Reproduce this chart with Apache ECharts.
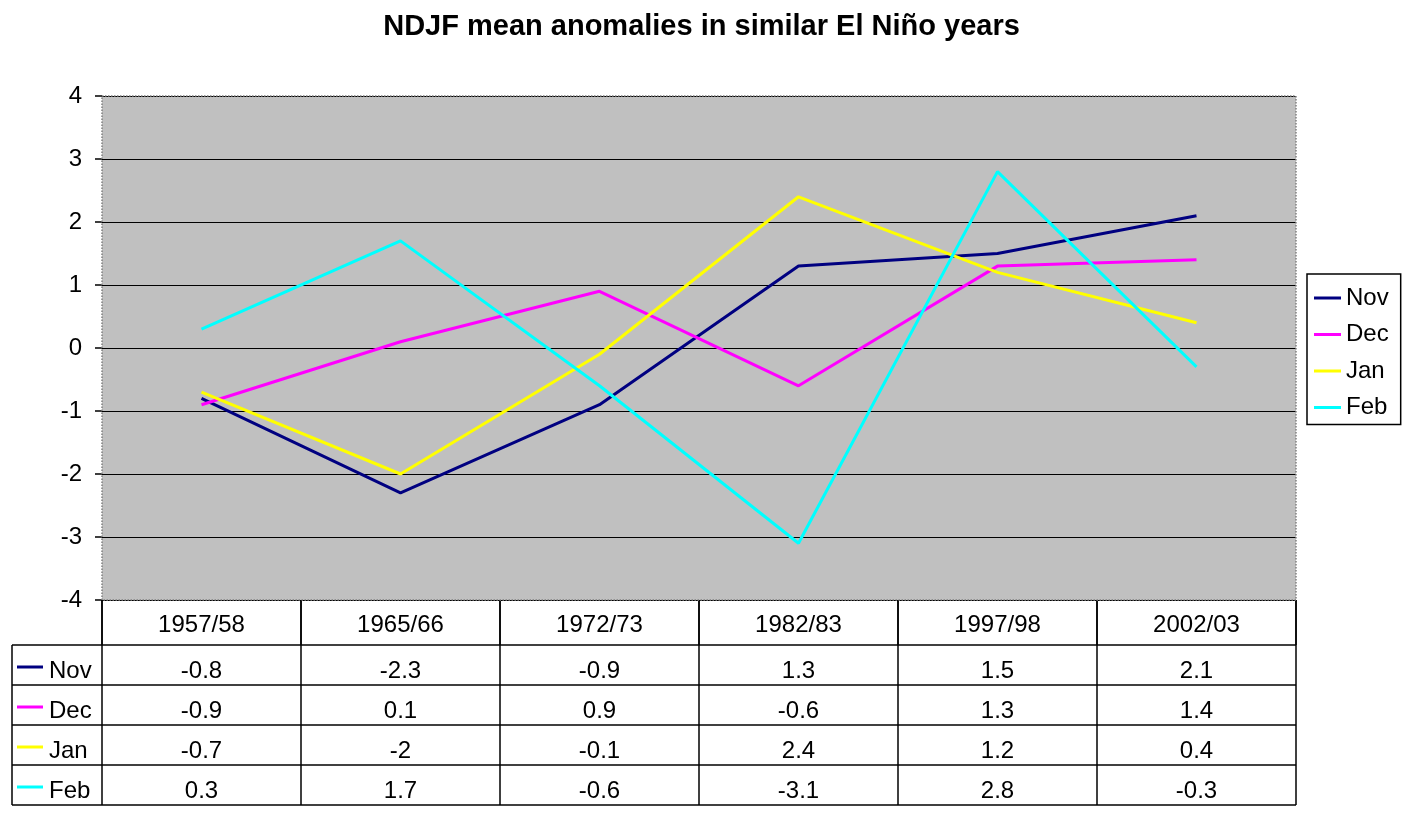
<!DOCTYPE html>
<html>
<head>
<meta charset="utf-8">
<script src="https://cdn.jsdelivr.net/npm/echarts@6/dist/echarts.min.js"></script>
<style>
html,body{margin:0;padding:0;background:#fff;}
#main{width:1403px;height:817px;}
</style>
</head>
<body>
<div id="main"></div>
<script>
var titleText = 'NDJF mean anomalies in similar El Niño years';
var categories = ['1957/58','1965/66','1972/73','1982/83','1997/98','2002/03'];
var seriesNames = ['Nov','Dec','Jan','Feb'];
var nov = [-0.8,-2.3,-0.9,1.3,1.5,2.1];
var dec = [-0.9,0.1,0.9,-0.6,1.3,1.4];
var jan = [-0.7,-2,-0.1,2.4,1.2,0.4];
var feb = [0.3,1.7,-0.6,-3.1,2.8,-0.3];
var yTicks = [-4,-3,-2,-1,0,1,2,3,4];

var seriesValues = [nov, dec, jan, feb];
var colors = ['#000080','#FF00FF','#FFFF00','#00FFFF'];
var FONT = 'Liberation Sans, Arial, sans-serif';
var FS = 24;

var gLeft = 102, gRight = 1296, gTop = 96, gBottom = 600;
var headerBottom = 645, rowH = 40, tableLeft = 12;
var colW = (gRight - gLeft) / categories.length;

var graphics = [];
graphics.push({type:'rect', shape:{x:gLeft, y:gTop, width:gRight-gLeft, height:gBottom-gTop},
  style:{fill:null, stroke:'#808080', lineWidth:1.5, lineDash:[1.5,1.5]}, z:10});
for (var r = 0; r <= seriesNames.length; r++) {
  var yy = headerBottom + r*rowH;
  graphics.push({type:'line', shape:{x1:tableLeft, y1:yy, x2:gRight, y2:yy}, style:{stroke:'#000', lineWidth:1.5}});
}
graphics.push({type:'line', shape:{x1:tableLeft, y1:headerBottom, x2:tableLeft, y2:headerBottom+rowH*seriesNames.length}, style:{stroke:'#000', lineWidth:1.5}});
for (var c = 0; c <= categories.length; c++) {
  var xx = gLeft + c*colW;
  graphics.push({type:'line', shape:{x1:xx, y1:gBottom, x2:xx, y2:headerBottom+rowH*seriesNames.length}, style:{stroke:'#000', lineWidth:1.5}});
}
seriesNames.forEach(function(name, i){
  var cy = headerBottom + i*rowH + rowH/2 + 6;
  graphics.push({type:'line', shape:{x1:17, y1:cy-4, x2:43, y2:cy-4}, style:{stroke:colors[i], lineWidth:3}});
  graphics.push({type:'text', style:{text:name, x:49, y:cy, font:FS+'px '+FONT, fill:'#000', textVerticalAlign:'middle', textAlign:'left'}});
  seriesValues[i].forEach(function(v, j){
    graphics.push({type:'text', style:{text:String(v), x:gLeft + (j+0.5)*colW, y:cy, font:FS+'px '+FONT, fill:'#000', textVerticalAlign:'middle', textAlign:'center'}});
  });
});

var chart = echarts.init(document.getElementById('main'));
chart.setOption({
  backgroundColor:'#fff',
  animation:false,
  title:{text:titleText, left:'center', top:7, textStyle:{fontFamily:FONT, fontSize:29, fontWeight:'bold', color:'#000'}},
  legend:{
    data:seriesNames, orient:'vertical', left:1307, top:274,
    borderColor:'#000', borderWidth:1.5, padding:[12,12,5,7],
    icon:'rect', itemWidth:27, itemHeight:3, itemGap:12.5,
    textStyle:{fontFamily:FONT, fontSize:FS, color:'#000'}
  },
  grid:{left:gLeft, top:gTop, width:gRight-gLeft, height:gBottom-gTop, show:true, backgroundColor:'#C0C0C0', borderWidth:0},
  xAxis:{
    type:'category', data:categories, boundaryGap:true,
    axisLine:{show:false, onZero:false},
    axisTick:{show:true, length:45, inside:false, lineStyle:{color:'#000', width:1.5}, interval:0},
    axisLabel:{fontFamily:FONT, fontSize:FS, color:'#000', margin:13, interval:0},
    splitLine:{show:false}
  },
  yAxis:{
    type:'value', min:yTicks[0], max:yTicks[yTicks.length-1], interval:1,
    axisLine:{show:false},
    axisTick:{show:true, length:7, lineStyle:{color:'#000', width:1.5}},
    axisLabel:{fontFamily:FONT, fontSize:FS, color:'#000', margin:20},
    splitLine:{show:true, lineStyle:{color:'#000', width:1.2}}
  },
  series: seriesNames.map(function(n, i){
    return {name:n, type:'line', data:seriesValues[i], symbol:'none', z:5,
      lineStyle:{color:colors[i], width:3}, itemStyle:{color:colors[i]}};
  }),
  graphic: graphics
});
</script>
</body>
</html>
